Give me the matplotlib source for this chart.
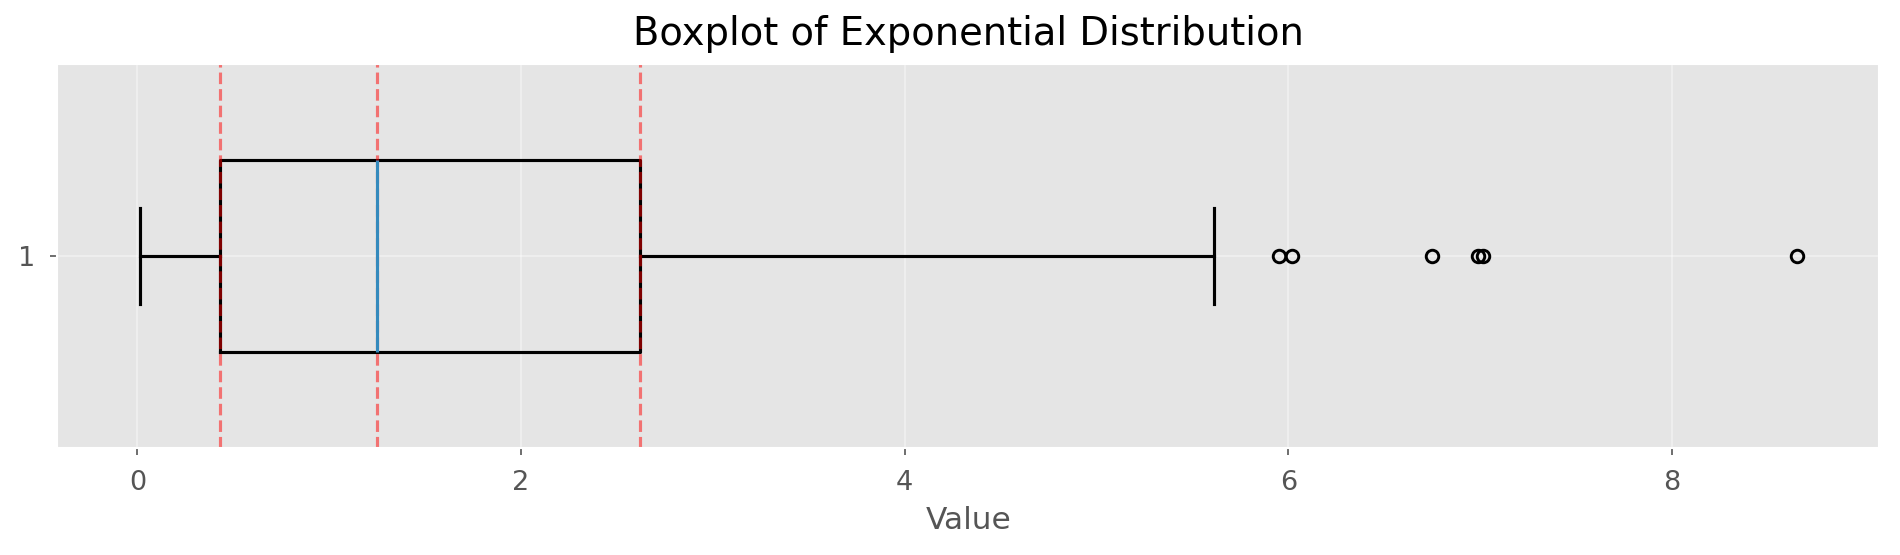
import matplotlib
matplotlib.use("Agg")
import matplotlib.pyplot as plt

plt.style.use("ggplot")

# Data
box_label = "1"
whisker_low = 0.014
q1 = 0.431
median = 1.250
q3 = 2.622
whisker_high = 5.615
outliers = [5.951, 6.021, 6.749, 6.991, 7.016, 8.65]
ref_lines = [q1, median, q3]

stats = [{
    "label": box_label,
    "whislo": whisker_low,
    "q1": q1,
    "med": median,
    "q3": q3,
    "whishi": whisker_high,
    "fliers": outliers,
}]

fig = plt.figure(figsize=(1900 / 150, 555 / 150), dpi=150)
ax = fig.add_axes([0.0301, 0.1932, 0.9591, 0.6913])
ax.grid(True, color="white", alpha=0.45)

lw = 1.5
ax.bxp(stats, orientation="horizontal", showfliers=True, widths=0.5,
       boxprops=dict(linewidth=lw, color="black"),
       whiskerprops=dict(linewidth=lw, color="black"),
       capprops=dict(linewidth=lw, color="black"),
       medianprops=dict(linewidth=lw, color="#348ABD"),
       flierprops=dict(marker="o", markersize=6, markerfacecolor="none",
                       markeredgecolor="black", markeredgewidth=1.4))

for v in ref_lines:
    ax.axvline(v, color="red", linestyle="--", alpha=0.5)

ax.set_title("Boxplot of Exponential Distribution", fontsize=18.5, pad=9)
ax.set_xlabel("Value", fontsize=15, labelpad=5)
ax.tick_params(axis="both", labelsize=13, pad=7)

fig.savefig("out.png", dpi=150)
